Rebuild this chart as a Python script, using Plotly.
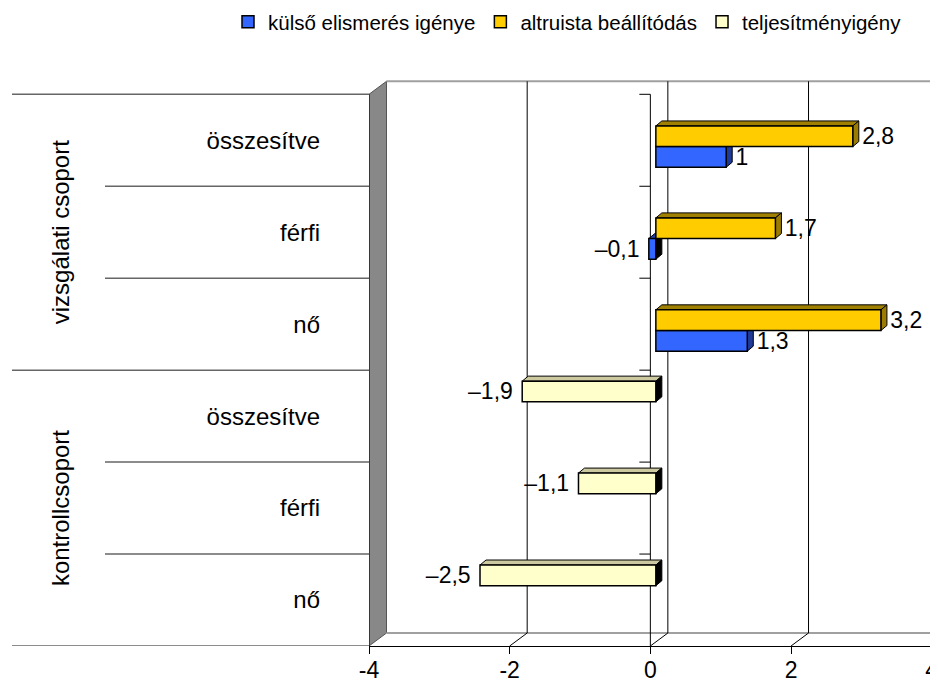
import plotly.graph_objects as go

# data
groups = ["vizsgálati csoport", "kontrollcsoport"]
categories = ["összesítve", "férfi", "nő", "összesítve", "férfi", "nő"]
series_names = ["külső elismerés igénye", "altruista beállítódás", "teljesítményigény"]
kulso = [1.0, -0.1, 1.3, None, None, None]
altruista = [2.8, 1.7, 3.2, None, None, None]
teljesitmeny = [None, None, None, -1.9, -1.1, -2.5]
x_ticks = [-4, -2, 0, 2, 4]
x_tick_labels = ["-4", "-2", "0", "2", "4"]

# styles
front_colors = ["#3366FF", "#FFCC00", "#FFFFCC"]
top_colors = ["#2340A8", "#A08000", "#CCC9A0"]
side_colors = ["#1F3A99", "#9C7C00", "#CCC9A0"]
FONT = "Liberation Sans, Arial, sans-serif"

# the page body has an 8px margin, so the figure is laid out 8px up/left
PAGE = 8
W, H = 938, 684
L = 369 - PAGE
T = 79 - PAGE
R = PAGE
B = H - (646 - PAGE)
PW = W - L - R
PH = H - T - B
PXX = (931.7 - 369) / 8          # px per x unit on the front plane
PXY = (646 - 94.3) / 6           # px per category slot
x_range = [-4, -4 + PW / PXX]
y_range = [5.5, 5.5 - PH / PXY]
WDX, WDY = 17.5 / PXX, 13 / PXY  # wall depth
BSX, BSY = 5.5 / PXX, 4 / PXY    # plane of the bar fronts
BDX, BDY = 6 / PXX, 5 / PXY      # bar depth
BAR_W = 20.66 / PXY
offsets = [0.5 * BAR_W, -0.5 * BAR_W, -1.5 * BAR_W]


def px_paper(px):
    return (px - PAGE - L) / PW


def py_paper(py):
    return (646 - py) / PH


def fmt(v):
    if v is None:
        return None
    s = f"{abs(v):g}".replace(".", ",")
    return ("\u00a0" + s) if v > 0 else ("–" + s + "\u00a0")


fig = go.Figure()

series = [kulso, altruista, teljesitmeny]

# top and side faces of the bars (drawn under the bar fronts)
for k, vals in enumerate(series):
    for i, v in enumerate(vals):
        if v is None:
            continue
        yt = i + offsets[k]
        yb = yt + BAR_W
        x0, x1 = min(0, v), max(0, v)
        top = ([x0, x1, x1 + BDX, x0 + BDX, x0], [yt, yt, yt - BDY, yt - BDY, yt])
        side = ([x1, x1 + BDX, x1 + BDX, x1, x1], [yt, yt - BDY, yb - BDY, yb, yt])
        faces = [(top, top_colors[k]), (side, side_colors[k] if v > 0 else "#000000")]
        for (xs, ys), col in faces:
            fig.add_trace(go.Scatter(
                x=xs, y=ys, mode="lines", fill="toself", fillcolor=col,
                line=dict(color="black", width=1),
                xaxis="x2", yaxis="y2", hoverinfo="skip", showlegend=False
            ))

# bar fronts
for k, vals in enumerate(series):
    fig.add_trace(go.Bar(
        name=series_names[k],
        orientation="h",
        y=list(range(len(categories))),
        x=vals,
        width=BAR_W,
        offset=offsets[k],
        marker=dict(color=front_colors[k], line=dict(color="black", width=1.5)),
        text=[fmt(v) for v in vals],
        textposition="outside",
        constraintext="none",
        textfont=dict(family=FONT, size=23, color="black"),
        cliponaxis=False,
        xaxis="x3", yaxis="y3"
    ))

# frame: walls, floor, gridlines
shapes = []
# left wall
shapes.append(dict(
    type="path", layer="below",
    path=f"M{-4},{-0.5} L{-4 + WDX},{-0.5 - WDY} L{-4 + WDX},{5.5 - WDY} L{-4},{5.5} Z",
    fillcolor="#888888", line=dict(color="#555555", width=1)
))
# back wall top edge and floor back edge
shapes.append(dict(type="line", layer="below", x0=-4 + WDX, x1=x_range[1],
                   y0=-0.5 - WDY, y1=-0.5 - WDY, line=dict(color="#A0A0A0", width=2)))
shapes.append(dict(type="line", layer="below", x0=-4 + WDX, x1=x_range[1],
                   y0=5.5 - WDY, y1=5.5 - WDY, line=dict(color="#A0A0A0", width=2)))
for v in x_ticks:
    if v > -4:
        # floor diagonal
        shapes.append(dict(type="line", layer="below", x0=v, x1=v + WDX,
                           y0=5.5, y1=5.5 - WDY, line=dict(color="black", width=1)))
    if -4 < v < 4:
        # back wall gridline
        shapes.append(dict(type="line", layer="below", x0=v + WDX, x1=v + WDX,
                           y0=5.5 - WDY, y1=-0.5 - WDY, line=dict(color="black", width=1)))
# front left edge
shapes.append(dict(type="line", layer="below", x0=-4, x1=-4, y0=-0.5, y1=5.5,
                   line=dict(color="black", width=1)))
# category axis at zero with ticks
shapes.append(dict(type="line", layer="below", x0=0, x1=0, y0=-0.5, y1=5.5,
                   line=dict(color="black", width=1)))
for b in range(len(categories)):
    shapes.append(dict(type="line", layer="below", x0=-11 / PXX, x1=0,
                       y0=b - 0.5, y1=b - 0.5, line=dict(color="black", width=1)))
# category separators in the left margin
for b in range(len(categories) + 1):
    start = px_paper(12) if b % 3 == 0 else px_paper(105)
    shapes.append(dict(type="line", xref="paper", yref="y", x0=start, x1=0,
                       y0=b - 0.5, y1=b - 0.5, line=dict(color="#666666", width=1.5)))

annotations = []
for g, name in enumerate(groups):
    annotations.append(dict(
        text=name, xref="paper", yref="y", x=px_paper(60), y=3 * g + 1,
        textangle=-90, showarrow=False, xanchor="center", yanchor="middle",
        font=dict(family=FONT, size=24, color="black")
    ))

fig.update_layout(
    width=W, height=H,
    margin=dict(l=L, r=R, t=T, b=B, pad=0, autoexpand=False),
    paper_bgcolor="white", plot_bgcolor="white",
    barmode="overlay",
    font=dict(family=FONT, color="black"),
    shapes=shapes,
    annotations=annotations,
    showlegend=True,
    legend=dict(orientation="h", x=px_paper(228), xanchor="left",
                y=py_paper(22), yanchor="middle",
                font=dict(family=FONT, size=20.5), itemwidth=30,
                bgcolor="rgba(0,0,0,0)"),
    xaxis=dict(range=x_range, tickvals=x_ticks, ticktext=x_tick_labels,
               ticks="outside", ticklen=7, tickcolor="black",
               showline=True, linecolor="black", linewidth=1,
               showgrid=False, zeroline=False, ticklabelstandoff=-4,
               tickfont=dict(family=FONT, size=23)),
    yaxis=dict(range=y_range, tickvals=list(range(len(categories))), ticktext=categories,
               ticks="", showline=False, showgrid=False, zeroline=False,
               ticklabelstandoff=48, tickfont=dict(family=FONT, size=24)),
    xaxis2=dict(overlaying="x", anchor="y2", visible=False,
                range=[x_range[0] - BSX, x_range[1] - BSX]),
    yaxis2=dict(overlaying="y", anchor="x2", visible=False,
                range=[y_range[0] + BSY, y_range[1] + BSY]),
    xaxis3=dict(overlaying="x", anchor="y3", visible=False,
                range=[x_range[0] - BSX, x_range[1] - BSX]),
    yaxis3=dict(overlaying="y", anchor="x3", visible=False,
                range=[y_range[0] + BSY, y_range[1] + BSY]),
)

fig.write_html("out.html")
